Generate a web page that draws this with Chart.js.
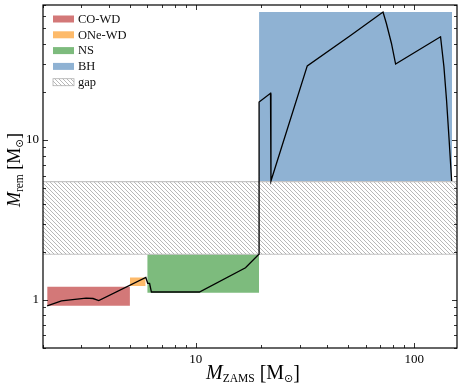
<!DOCTYPE html>
<html>
<head>
<meta charset="utf-8">
<script src="https://cdn.jsdelivr.net/npm/chart.js@4.4.0/dist/chart.umd.min.js"></script>
<style>
html, body { margin: 0; padding: 0; background: #fff; }
</style>
</head>
<body>
<canvas id="chart" width="464" height="391"></canvas>
<script>
// remnant mass vs ZAMS mass
const mZams = [2.09, 2.43, 3.15, 3.39, 3.6, 5.91, 6.03, 6.15, 6.27, 10.4, 16.9, 19.3, 19.5, 19.5, 22.0, 22.1, 32.4, 51.3, 72, 74.6, 78.7, 82.2, 132, 136.8, 140.6, 144.5, 148.4];
const mRem = [0.917, 0.986, 1.025, 1.02, 0.99, 1.38, 1.27, 1.27, 1.12, 1.12, 1.59, 1.91, 1.93, 17.3, 19.6, 5.55, 29.1, 45.3, 63.2, 53.6, 40.2, 29.9, 44.3, 28.7, 17.8, 10, 5.55];

const regionNames = ["CO-WD", "ONe-WD", "NS", "BH"];
const regionZamsMin = [2.09, 5.0, 6.0, 19.5];
const regionZamsMax = [5.0, 5.9, 19.5, 149];
const regionRemMin = [0.92, 1.22, 1.11, 5.5];
const regionRemMax = [1.21, 1.38, 1.93, 63.2];

const gapLabel = "gap";
const gapRem = [1.93, 5.5];

const xRange = [2, 157];
const yRange = [0.5, 70];
const xTicks = [10, 100];
const yTicks = [1, 10];

const regionColors = ["#d37878", "#fdba6a", "#7dbb7d", "#8fb2d3"];
const serif = "'Liberation Serif', 'DejaVu Serif', serif";

function hatchPattern() {
    const c = document.createElement("canvas");
    c.width = 4;
    c.height = 4;
    const g = c.getContext("2d");
    g.strokeStyle = "#9a9a9a";
    g.lineWidth = 0.7;
    g.beginPath();
    g.moveTo(-1, -1); g.lineTo(5, 5);
    g.moveTo(-1, 3); g.lineTo(1, 5);
    g.moveTo(3, -1); g.lineTo(5, 1);
    g.stroke();
    return g.createPattern(c, "repeat");
}
const hatch = hatchPattern();

const datasets = [];
datasets.push({
    data: mZams.map((x, i) => ({x: x, y: mRem[i]})),
    borderColor: "#000",
    borderWidth: 1.3,
    pointRadius: 0,
    fill: false,
    tension: 0
});
datasets.push({
    data: [{x: xRange[0], y: gapRem[1]}, {x: xRange[1], y: gapRem[1]}],
    borderColor: "#c4c4c4",
    borderWidth: 1.2,
    backgroundColor: hatch,
    pointRadius: 0,
    fill: {value: gapRem[0]}
});
datasets.push({
    data: [{x: xRange[0], y: gapRem[0]}, {x: xRange[1], y: gapRem[0]}],
    borderColor: "#c4c4c4",
    borderWidth: 1.2,
    pointRadius: 0,
    fill: false
});
regionNames.forEach((name, i) => {
    datasets.push({
        data: [{x: regionZamsMin[i], y: regionRemMax[i]}, {x: regionZamsMax[i], y: regionRemMax[i]}],
        borderWidth: 0,
        borderColor: "rgba(0,0,0,0)",
        backgroundColor: regionColors[i],
        pointRadius: 0,
        fill: {value: regionRemMin[i]}
    });
});

function minorTicks(range) {
    const out = [];
    for (let d = 0.1; d <= 100; d *= 10) {
        for (let k = 1; k < 10; k++) {
            const v = Math.round(k * d * 1000) / 1000;
            if (v >= range[0] && v <= range[1]) out.push(v);
        }
    }
    return out;
}

function drawParts(ctx, parts, x, y) {
    parts.forEach(p => {
        ctx.font = p.font;
        ctx.fillText(p.text, x, y + (p.dy || 0));
        x += ctx.measureText(p.text).width;
    });
}

function partsWidth(ctx, parts) {
    let w = 0;
    parts.forEach(p => { ctx.font = p.font; w += ctx.measureText(p.text).width; });
    return w;
}

const decor = {
    id: "decor",
    afterDraw(chart) {
        const ctx = chart.ctx;
        const a = chart.chartArea;
        const sx = chart.scales.x;
        const sy = chart.scales.y;
        ctx.save();
        ctx.strokeStyle = "#000";

        // inward ticks on all sides
        ctx.lineWidth = 0.8;
        ctx.beginPath();
        minorTicks(xRange).forEach(v => {
            const px = Math.round(sx.getPixelForValue(v)) + 0.5;
            const len = xTicks.includes(v) ? 5 : 3;
            ctx.moveTo(px, a.bottom); ctx.lineTo(px, a.bottom - len);
            ctx.moveTo(px, a.top); ctx.lineTo(px, a.top + len);
        });
        minorTicks(yRange).forEach(v => {
            const py = Math.round(sy.getPixelForValue(v)) + 0.5;
            const len = yTicks.includes(v) ? 5 : 3;
            ctx.moveTo(a.left, py); ctx.lineTo(a.left + len, py);
            ctx.moveTo(a.right, py); ctx.lineTo(a.right - len, py);
        });
        ctx.stroke();

        // frame
        ctx.lineWidth = 1.2;
        ctx.strokeRect(a.left, a.top, a.right - a.left, a.bottom - a.top);

        // legend
        const items = regionNames.map((n, i) => ({label: n, fill: regionColors[i]}));
        items.push({label: gapLabel, fill: hatch, edge: "#b0b0b0"});
        ctx.textBaseline = "middle";
        ctx.textAlign = "left";
        items.forEach((it, i) => {
            const cy = 19 + i * 15.8;
            ctx.fillStyle = it.fill;
            ctx.fillRect(53, cy - 3.5, 21, 7);
            if (it.edge) {
                ctx.lineWidth = 0.8;
                ctx.strokeStyle = it.edge;
                ctx.strokeRect(53, cy - 3.5, 21, 7);
            }
            ctx.fillStyle = "#111";
            ctx.font = "12.5px " + serif;
            ctx.fillText(it.label, 78, cy + 0.5);
        });

        // axis titles
        ctx.textBaseline = "alphabetic";
        ctx.fillStyle = "#000";
        const xBig = "20px " + serif;
        const xParts = [
            {text: "M", font: "italic " + xBig},
            {text: "ZAMS", font: "11.5px " + serif, dy: 3},
            {text: " [M", font: xBig},
            {text: "\u2299", font: "11px 'DejaVu Sans', sans-serif", dy: 3},
            {text: "]", font: xBig}
        ];
        drawParts(ctx, xParts, 253 - partsWidth(ctx, xParts) / 2, 379);

        const yBig = "18px " + serif;
        const yParts = [
            {text: "M", font: "italic " + yBig},
            {text: "rem", font: "11.5px " + serif, dy: 3},
            {text: " [M", font: yBig},
            {text: "\u2299", font: "10.5px 'DejaVu Sans', sans-serif", dy: 3},
            {text: "]", font: yBig}
        ];
        ctx.translate(20, 170);
        ctx.rotate(-Math.PI / 2);
        drawParts(ctx, yParts, -partsWidth(ctx, yParts) / 2, 0);
        ctx.restore();
    }
};

new Chart(document.getElementById("chart"), {
    type: "line",
    data: {datasets: datasets},
    options: {
        responsive: false,
        animation: false,
        layout: {padding: {top: 5, right: 7, left: 0, bottom: 0}},
        plugins: {legend: {display: false}, tooltip: {enabled: false}},
        scales: {
            x: {
                type: "logarithmic",
                min: xRange[0],
                max: xRange[1],
                grid: {display: false, drawTicks: false},
                border: {display: false},
                afterBuildTicks: s => { s.ticks = xTicks.map(v => ({value: v})); },
                ticks: {
                    callback: v => String(v),
                    font: {family: serif, size: 13},
                    color: "#000",
                    padding: 4,
                    maxRotation: 0,
                    autoSkip: false
                },
                afterFit: s => { s.height = 43; s.paddingLeft = 0; s.paddingRight = 0; }
            },
            y: {
                type: "logarithmic",
                min: yRange[0],
                max: yRange[1],
                grid: {display: false, drawTicks: false},
                border: {display: false},
                afterBuildTicks: s => { s.ticks = yTicks.map(v => ({value: v})); },
                ticks: {
                    callback: v => String(v),
                    font: {family: serif, size: 13},
                    color: "#000",
                    padding: 4,
                    autoSkip: false
                },
                afterFit: s => { s.width = 43; s.paddingTop = 0; s.paddingBottom = 0; }
            }
        }
    },
    plugins: [decor]
});
</script>
</body>
</html>
